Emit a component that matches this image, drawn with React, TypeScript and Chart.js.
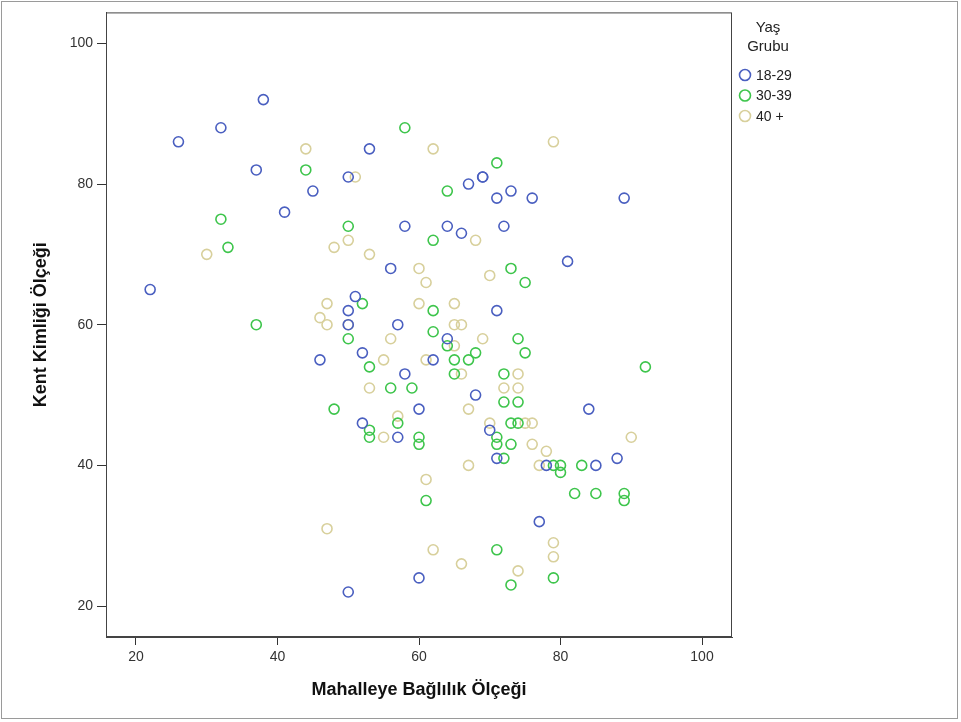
import React, { useEffect, useRef } from 'react';
import { Chart, registerables } from 'chart.js';

Chart.register(...registerables);

// ---- data ----
const groupNames = ['18-29', '30-39', '40 +'];
const legendTitle = ['Yaş', 'Grubu'];
const xTitle = 'Mahalleye Bağlılık Ölçeği';
const yTitle = 'Kent Kimliği Ölçeği';
const xTickValues = [20, 40, 60, 80, 100];
const yTickValues = [20, 40, 60, 80, 100];

const group1829: [number, number][] = [
  [22, 65], [26, 86], [32, 88], [38, 92], [37, 82], [41, 76], [45, 79], [53, 85],
  [50, 81], [67, 80], [69, 81], [69, 81], [73, 79], [71, 78], [76, 78], [58, 74],
  [64, 74], [66, 73], [72, 74], [89, 78], [81, 69], [56, 68], [51, 64], [71, 62],
  [50, 62], [50, 60], [57, 60], [64, 58], [52, 56], [46, 55], [62, 55], [58, 53],
  [68, 50], [60, 48], [84, 48], [52, 46], [70, 45], [57, 44], [71, 41], [78, 40],
  [85, 40], [88, 41], [77, 32], [60, 24], [50, 22],
];

const group3039: [number, number][] = [
  [44, 82], [32, 75], [33, 71], [58, 88], [71, 83], [64, 79], [50, 74], [62, 72],
  [37, 60], [73, 68], [75, 66], [52, 63], [62, 62], [62, 59], [50, 58], [74, 58],
  [64, 57], [68, 56], [75, 56], [65, 55], [67, 55], [53, 54], [65, 53], [72, 53],
  [92, 54], [56, 51], [59, 51], [72, 49], [74, 49], [48, 48], [57, 46], [73, 46],
  [74, 46], [53, 45], [53, 44], [60, 44], [60, 43], [71, 44], [71, 43], [73, 43],
  [72, 41], [79, 40], [80, 40], [80, 39], [83, 40], [82, 36], [85, 36], [89, 36],
  [89, 35], [61, 35], [71, 28], [73, 23], [79, 24],
];

const group40plus: [number, number][] = [
  [44, 85], [30, 70], [62, 85], [51, 81], [79, 86], [68, 72], [50, 72], [48, 71],
  [53, 70], [47, 63], [46, 61], [47, 60], [60, 68], [61, 66], [70, 67], [60, 63],
  [65, 63], [50, 60], [65, 60], [66, 60], [56, 58], [69, 58], [65, 57], [55, 55],
  [61, 55], [66, 53], [74, 53], [53, 51], [72, 51], [74, 51], [67, 48], [57, 47],
  [70, 46], [75, 46], [76, 46], [90, 44], [55, 44], [76, 43], [78, 42], [67, 40],
  [77, 40], [61, 38], [47, 31], [62, 28], [66, 26], [74, 25], [79, 29], [79, 27],
];

const groupData = [group1829, group3039, group40plus];
const groupColors = ['#4a5fc0', '#3ec54c', '#d8d09c'];

const FONT = '"Liberation Sans", Arial, sans-serif';

const framePlugin = {
  id: 'framePlugin',
  afterDraw(chart: any) {
    const { ctx, chartArea: a } = chart;
    ctx.save();
    // plot frame
    ctx.strokeStyle = '#444';
    ctx.lineWidth = 1;
    ctx.strokeRect(a.left + 0.5, a.top + 0.5, a.right - a.left - 1, a.bottom - a.top - 1);
    // outer frame
    ctx.strokeStyle = '#9a9a9a';
    ctx.strokeRect(1.5, 1.5, chart.width - 5, chart.height - 5);
    // legend
    ctx.fillStyle = '#222';
    ctx.font = `15px ${FONT}`;
    ctx.textAlign = 'center';
    ctx.textBaseline = 'middle';
    ctx.fillText(legendTitle[0], 768, 28);
    ctx.fillText(legendTitle[1], 768, 47);
    ctx.font = `14px ${FONT}`;
    ctx.textAlign = 'left';
    groupNames.forEach((name, i) => {
      const y = 75 + i * 20.5;
      ctx.beginPath();
      ctx.strokeStyle = groupColors[i];
      ctx.lineWidth = 1.6;
      ctx.arc(745, y, 5.5, 0, Math.PI * 2);
      ctx.stroke();
      ctx.fillStyle = '#222';
      ctx.fillText(name, 756, y + 1);
    });
    ctx.restore();
  },
};

export default function App() {
  const ref = useRef<HTMLCanvasElement>(null);

  useEffect(() => {
    if (!ref.current) return;
    const chart = new Chart(ref.current, {
      type: 'scatter',
      data: {
        datasets: groupData.map((pts, i) => ({
          label: groupNames[i],
          data: pts.map(([x, y]) => ({ x, y })),
          borderColor: groupColors[i],
          backgroundColor: 'rgba(0,0,0,0)',
          pointRadius: 5,
          pointBorderWidth: 1.6,
          pointHoverRadius: 5,
        })),
      },
      plugins: [framePlugin],
      options: {
        responsive: false,
        animation: false,
        events: [],
        layout: { padding: { left: 0, top: 10, right: 229, bottom: 0 } },
        plugins: { legend: { display: false }, tooltip: { enabled: false } },
        scales: {
          x: {
            type: 'linear',
            min: 15.76,
            max: 104.24,
            afterBuildTicks: (s: any) => {
              s.ticks = xTickValues.map((v) => ({ value: v }));
            },
            afterFit: (s: any) => {
              s.height = 85;
            },
            grid: { display: true, drawOnChartArea: false, drawTicks: true, tickLength: 8, color: '#333' },
            border: { display: true, color: '#444' },
            ticks: { padding: 4, color: '#333', font: { size: 14, family: FONT }, maxRotation: 0 },
            title: {
              display: true,
              text: xTitle,
              color: '#111',
              font: { size: 18, weight: 'bold', family: FONT },
              padding: { top: 0, bottom: 21 },
            },
          },
          y: {
            type: 'linear',
            min: 15.6,
            max: 104.4,
            afterBuildTicks: (s: any) => {
              s.ticks = yTickValues.map((v) => ({ value: v }));
            },
            afterFit: (s: any) => {
              s.width = 106;
            },
            grid: { display: true, drawOnChartArea: false, drawTicks: true, tickLength: 9, color: '#333' },
            border: { display: true, color: '#444' },
            ticks: { padding: 4, color: '#333', font: { size: 14, family: FONT } },
            title: {
              display: true,
              text: yTitle,
              color: '#111',
              font: { size: 18, weight: 'bold', family: FONT },
              padding: { top: 30, bottom: 0 },
            },
          },
        },
      } as any,
    });
    return () => chart.destroy();
  }, []);

  return (
    <div style={{ position: 'absolute', left: 0, top: 0, width: 961, height: 722, background: '#fff' }}>
      <canvas ref={ref} width={961} height={722} style={{ display: 'block', width: 961, height: 722 }} />
    </div>
  );
}
